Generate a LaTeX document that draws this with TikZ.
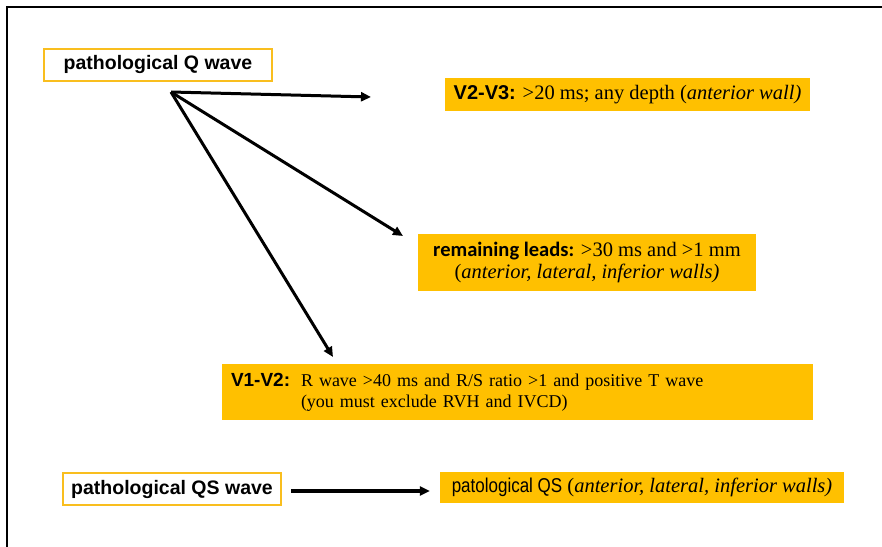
\documentclass[tikz,border=0pt]{standalone}
\usepackage{fontspec}
\setmainfont{Liberation Serif}
\newfontfamily\arial{Liberation Sans}
\newfontfamily\calibri{Carlito}
\usetikzlibrary{arrows.meta}
\definecolor{gold}{HTML}{FFC000}
\definecolor{goldline}{HTML}{F9BE1E}

\tikzset{
  wbox/.style={draw=goldline, line width=2pt, fill=white, inner sep=0pt,
    font=\arial\bfseries\fontsize{19.5}{22}\selectfont},
  ybox/.style={fill=gold, inner sep=0pt},
  conn/.style={line width=3pt, -{Triangle[length=10pt,width=9pt]}},
  frameline/.style={line width=2pt, line cap=rect}
}

\begin{document}
\begin{tikzpicture}[x=1pt, y=-1pt]
  \useasboundingbox (0,0) rectangle (882,546);

  % open frame: left and top edges
  \draw[frameline] (7,546) -- (7,7) -- (882,7);

  % Q-wave criteria
  \node[wbox, minimum width=228pt, minimum height=32pt] (qwave) at (158,65)
    {pathological Q wave};

  \node[ybox, minimum width=365pt, minimum height=33pt,
        font=\fontsize{20.5}{24}\selectfont] (v23) at (627.5,94.5)
    {{\arial\bfseries\fontsize{20}{24}\selectfont V2-V3:} >20 ms; any depth (\textit{anterior wall)}};

  \node[ybox, minimum width=338pt, minimum height=57pt, align=center,
        font=\fontsize{20.5}{22}\selectfont] (rest) at (587,262.5)
    {{\calibri\bfseries remaining leads:} >30 ms and >1 mm\\
     (\textit{anterior, lateral, inferior walls)}};

  \node[ybox, minimum width=591pt, minimum height=56pt, inner xsep=9pt,
        text width=573pt, align=left, font=\fontsize{18}{21}\selectfont] (v12) at (517.5,392)
    {\makebox[70pt][l]{\arial\bfseries\fontsize{19}{21}\selectfont V1-V2:}R wave >40 ms and R/S ratio >1 and positive T wave\\
     \hspace*{70pt}(you must exclude RVH and IVCD)};

  % arrows fanning out from below the Q-wave box
  \coordinate (hub) at (171,92);
  \coordinate (tipA) at (371,97);
  \coordinate (tipB) at (403,236);
  \coordinate (tipC) at (333,357);
  \draw[conn] (hub) -- (tipA);
  \draw[conn] (hub) -- (tipB);
  \draw[conn] (hub) -- (tipC);

  % QS-wave row
  \node[wbox, minimum width=218pt, minimum height=32pt] (qswave) at (172,489)
    {pathological QS wave};
  \node[ybox, minimum width=404pt, minimum height=31pt,
        font=\fontsize{20.5}{24}\selectfont] (qs) at (642,487.5)
    {\scalebox{0.85}[1]{\arial\fontsize{20}{24}\selectfont patological QS} (\textit{anterior, lateral, inferior walls)}};
  \draw[conn, line width=3.4pt] ([xshift=9pt]qswave.east |- 0,491) -- ([xshift=-10pt]qs.west |- 0,491);
\end{tikzpicture}
\end{document}
